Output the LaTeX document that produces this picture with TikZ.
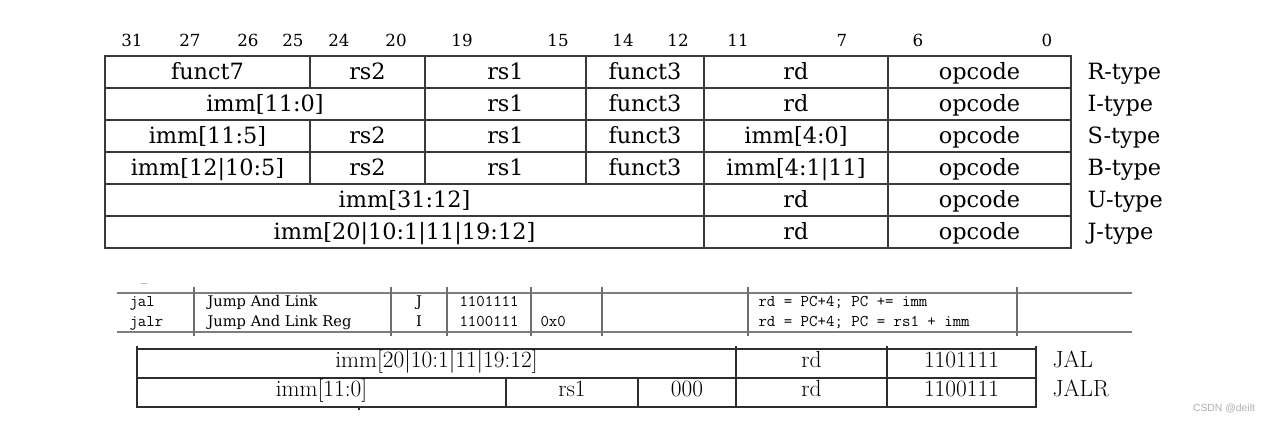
\documentclass[tikz,border=0pt]{standalone}
\usepackage{fontspec}
\newfontfamily\cardfont{DejaVu Serif}
\newfontfamily\markfont{Liberation Sans}

\tikzset{every picture/.style={line width=0.75pt}}
\tikzset{
  gridline/.style={color={rgb, 255:red, 58; green, 58; blue, 58}, line width=1.1pt},
  sheetline/.style={color={rgb, 255:red, 125; green, 125; blue, 125}, line width=1.4pt},
  sheetrule/.style={color={rgb, 255:red, 110; green, 110; blue, 110}, line width=1pt},
  cmline/.style={color={rgb, 255:red, 45; green, 45; blue, 45}, line width=1.1pt},
  fieldtext/.style={anchor=base, inner sep=0.75pt, font=\cardfont\fontsize{16.8}{20}\selectfont},
  typetext/.style={anchor=base west, inner sep=0.75pt, font=\cardfont\fontsize{16.8}{20}\selectfont},
  bitnum/.style={anchor=base, inner sep=0.75pt, font=\cardfont\fontsize{12.5}{15}\selectfont},
  sheettext/.style={anchor=base west, inner sep=0.75pt, font=\cardfont\fontsize{11}{13}\selectfont},
  sheetmid/.style={anchor=base, inner sep=0.75pt, font=\cardfont\fontsize{11}{13}\selectfont},
  sheetcode/.style={anchor=base west, inner sep=0.75pt, font=\ttfamily\fontsize{12.3}{14}\selectfont},
  cmtext/.style={anchor=base, inner sep=0.75pt, font=\fontsize{17.5}{20}\selectfont},
  cmname/.style={anchor=base west, inner sep=0.75pt, font=\fontsize{17.5}{20}\selectfont},
}

\begin{document}
\begin{tikzpicture}[x=0.75pt,y=0.75pt,yscale=-1,xscale=1]
\useasboundingbox (0,0) rectangle (1271,421);

%Straight Lines: formats table
\draw [gridline] (105,56) rectangle (1071,248);
\draw [gridline] (105,88) -- (1071,88);
\draw [gridline] (105,120) -- (1071,120);
\draw [gridline] (105,152) -- (1071,152);
\draw [gridline] (105,184) -- (1071,184);
\draw [gridline] (105,216) -- (1071,216);
\draw [gridline] (310,56) -- (310,88);
\draw [gridline] (310,120) -- (310,184);
\draw [gridline] (425,56) -- (425,184);
\draw [gridline] (586,56) -- (586,184);
\draw [gridline] (704,56) -- (704,248);
\draw [gridline] (888,56) -- (888,248);

% Bit numbers
\draw (132,46) node (b31) [bitnum] {31};
\draw (190,46) node (b27) [bitnum] {27};
\draw (248,46) node (b26) [bitnum] {26};
\draw (293,46) node (b25) [bitnum] {25};
\draw (339,46) node (b24) [bitnum] {24};
\draw (396,46) node (b20) [bitnum] {20};
\draw (462,46) node (b19) [bitnum] {19};
\draw (558,46) node (b15) [bitnum] {15};
\draw (623,46) node (b14) [bitnum] {14};
\draw (678,46) node (b12) [bitnum] {12};
\draw (738,46) node (b11) [bitnum] {11};
\draw (842,46) node (b7) [bitnum] {7};
\draw (918,46) node (b6) [bitnum] {6};
\draw (1047,46) node (b0) [bitnum] {0};

% R-type
\draw (207.5,79) node (rfunctseven) [fieldtext] {funct7};
\draw (367.5,79) node (rrstwo) [fieldtext] {rs2};
\draw (505.5,79) node (rrsone) [fieldtext] {rs1};
\draw (645,79) node (rfunctthree) [fieldtext] {funct3};
\draw (796,79) node (rrd) [fieldtext] {rd};
\draw (979.5,79) node (ropcode) [fieldtext] {opcode};
\draw (1086,79) node (rtype) [typetext] {R-type};
% I-type
\draw (265,111) node (iimm) [fieldtext] {imm[11:0]};
\draw (505.5,111) node (irsone) [fieldtext] {rs1};
\draw (645,111) node (ifunctthree) [fieldtext] {funct3};
\draw (796,111) node (ird) [fieldtext] {rd};
\draw (979.5,111) node (iopcode) [fieldtext] {opcode};
\draw (1086,111) node (itype) [typetext] {I-type};
% S-type
\draw (207.5,143) node (simmhi) [fieldtext] {imm[11:5]};
\draw (367.5,143) node (srstwo) [fieldtext] {rs2};
\draw (505.5,143) node (srsone) [fieldtext] {rs1};
\draw (645,143) node (sfunctthree) [fieldtext] {funct3};
\draw (796,143) node (simmlo) [fieldtext] {imm[4:0]};
\draw (979.5,143) node (sopcode) [fieldtext] {opcode};
\draw (1086,143) node (stype) [typetext] {S-type};
% B-type
\draw (207.5,175) node (bimmhi) [fieldtext] {imm[12|10:5]};
\draw (367.5,175) node (brstwo) [fieldtext] {rs2};
\draw (505.5,175) node (brsone) [fieldtext] {rs1};
\draw (645,175) node (bfunctthree) [fieldtext] {funct3};
\draw (796,175) node (bimmlo) [fieldtext] {imm[4:1|11]};
\draw (979.5,175) node (bopcode) [fieldtext] {opcode};
\draw (1086,175) node (btype) [typetext] {B-type};
% U-type
\draw (404.5,207) node (uimm) [fieldtext] {imm[31:12]};
\draw (796,207) node (urd) [fieldtext] {rd};
\draw (979.5,207) node (uopcode) [fieldtext] {opcode};
\draw (1086,207) node (utype) [typetext] {U-type};
% J-type
\draw (404.5,239) node (jimm) [fieldtext] {imm[20|10:1|11|19:12]};
\draw (796,239) node (jrd) [fieldtext] {rd};
\draw (979.5,239) node (jopcode) [fieldtext] {opcode};
\draw (1086,239) node (jtype) [typetext] {J-type};

%Straight Lines: reference card rows
\draw [color={rgb, 255:red, 190; green, 190; blue, 190}, line width=0.8pt] (141,283.5) -- (147,283.5);
\draw [sheetline] (117,293) -- (1132,293);
\draw [sheetline] (117,332) -- (1132,332);
\draw [sheetrule] (194,287) -- (194,336);
\draw [sheetrule] (391,287) -- (391,336);
\draw [sheetrule] (447,287) -- (447,336);
\draw [sheetrule] (531,287) -- (531,336);
\draw [sheetrule] (602,287) -- (602,336);
\draw [sheetrule] (748,287) -- (748,336);
\draw [sheetrule] (1017,287) -- (1017,336);

% Card texts
\draw (128,306) node (jalmn) [sheetcode] {jal};
\draw (206,306) node (jalname) [sheettext] {Jump And Link};
\draw (419,306) node (jalfmt) [sheetmid] {J};
\draw (458,306) node (jalop) [sheetcode] {1101111};
\draw (757,306) node (jaldesc) [sheetcode] {rd = PC+4; PC += imm};
\draw (128,326) node (jalrmn) [sheetcode] {jalr};
\draw (206,326) node (jalrname) [sheettext] {Jump And Link Reg};
\draw (419,326) node (jalrfmt) [sheetmid] {I};
\draw (458,326) node (jalrop) [sheetcode] {1100111};
\draw (539,326) node (jalrfn) [sheetcode] {0x0};
\draw (757,326) node (jalrdesc) [sheetcode] {rd = PC+4; PC = rs1 + imm};

%Straight Lines: JAL / JALR encodings
\draw [cmline] (137,349) -- (1036,349);
\draw [cmline] (137,378) -- (1036,378);
\draw [cmline] (137,407) -- (1036,407);
\draw [cmline] (137,346) -- (137,408);
\draw [cmline] (736,346) -- (736,408);
\draw [cmline] (887,346) -- (887,408);
\draw [cmline] (1036,346) -- (1036,408);
\draw [cmline] (506,378) -- (506,408);
\draw [cmline] (638,378) -- (638,408);
\draw [cmline] (359,407) -- (359,410);

% Encoding texts
\draw (436.5,367) node (jalimm) [cmtext] {imm[20|10:1|11|19:12]};
\draw (811.5,367) node (jalrd) [cmtext] {rd};
\draw (961.5,367) node (jalcode) [cmtext] {1101111};
\draw (1051,367) node (jallbl) [cmname] {JAL};
\draw (321.5,396) node (jalrimm) [cmtext] {imm[11:0]};
\draw (572,396) node (jalrrs) [cmtext] {rs1};
\draw (687,396) node (jalrfunct) [cmtext] {000};
\draw (811.5,396) node (jalrrd) [cmtext] {rd};
\draw (961.5,396) node (jalrcode) [cmtext] {1100111};
\draw (1051,396) node (jalrlbl) [cmname] {JALR};

% Watermark
\draw (1224,411) node (mark) [anchor=base, inner sep=0.75pt, text={rgb, 255:red, 175; green, 175; blue, 175}, font=\markfont\fontsize{7.8}{9}\selectfont] {CSDN @deilt};

\end{tikzpicture}
\end{document}
